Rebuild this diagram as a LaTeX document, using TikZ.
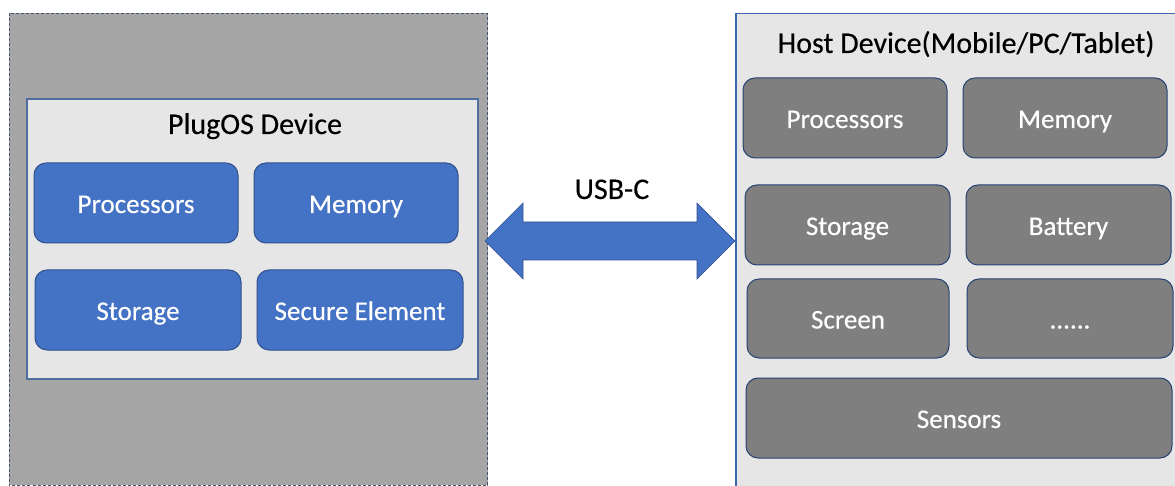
\documentclass[tikz,border=0pt]{standalone}
\usepackage{fontspec}
\setmainfont{Carlito}
\newfontfamily\heavyfont{Carlito}[FakeBold=0.35]
\definecolor{panelgray}{HTML}{A5A5A5}
\definecolor{lightpanel}{HTML}{E7E6E6}
\definecolor{accentblue}{HTML}{4472C4}
\definecolor{darkblue}{HTML}{2F528F}
\definecolor{midgray}{HTML}{7F7F7F}
\definecolor{dashcol}{HTML}{44546A}
\begin{document}
\begin{tikzpicture}[x=1pt,y=-1pt,
  boxbase/.style={rounded corners=12pt,line width=1pt,text=white,font=\heavyfont\fontsize{27}{30}\selectfont,text height=20pt,text depth=0pt},
  bluebox/.style={boxbase,draw=darkblue,fill=accentblue},
  graybox/.style={boxbase,draw=darkblue!80!black,fill=midgray},
  titletext/.style={font=\heavyfont\fontsize{30}{34}\selectfont,text=black,inner sep=0pt,anchor=base}]
\useasboundingbox (0,0) rectangle (1175,486);
\clip (0,0) rectangle (1175,486);
% left outer panel
\fill[panelgray] (9,13.5) rectangle (487.5,485);
\draw[dashcol,line width=1pt,dash pattern=on 3pt off 2pt] (9,13.5) rectangle (487.5,485);
% inner box
\draw[fill=lightpanel,draw=darkblue!85!white,line width=1.6pt] (27,99) rectangle (478,379);
\node[titletext] (plugtitle) at (255,134) {PlugOS Device};
\node[bluebox,minimum width=204pt,minimum height=80pt] (lproc) at (136,203) {Processors};
\node[bluebox,minimum width=204pt,minimum height=80pt] (lmem) at (356,203) {Memory};
\node[bluebox,minimum width=206pt,minimum height=80pt] (lstor) at (138,310) {Storage};
\node[bluebox,minimum width=206pt,minimum height=80pt] (lsec) at (360,310) {Secure Element};
% right panel
\draw[fill=lightpanel,draw=accentblue!90!black,line width=1.2pt] (736,13.5) rectangle (1190,495);
\node[titletext] (hosttitle) at (966,53) {Host Device(Mobile/PC/Tablet)};
\node[graybox,minimum width=204pt,minimum height=80pt] (rproc) at (845,118) {Processors};
\node[graybox,minimum width=204pt,minimum height=80pt] (rmem) at (1065,118) {Memory};
\node[graybox,minimum width=205pt,minimum height=80pt] (rstor) at (847.5,225) {Storage};
\node[graybox,minimum width=205pt,minimum height=80pt] (rbat) at (1068.5,225) {Battery};
\node[graybox,minimum width=202pt,minimum height=79pt] (rscr) at (848,318.5) {Screen};
\node[graybox,minimum width=206pt,minimum height=79pt] (rdots) at (1070,318.5) {......};
\node[graybox,minimum width=426pt,minimum height=80pt] (rsens) at (959,418) {Sensors};
% arrow
\node[titletext] (usb) at (612,199) {USB-C};
\coordinate (ltip) at (485,241);
\coordinate (rtip) at (735,241);
\draw[fill=accentblue,draw=darkblue,line width=0.6pt,line join=miter]
  (ltip) -- (523,203) -- (523,222) -- (697,222) -- (697,203) -- (rtip)
  -- (697,279) -- (697,260) -- (523,260) -- (523,279) -- cycle;
\end{tikzpicture}
\end{document}
